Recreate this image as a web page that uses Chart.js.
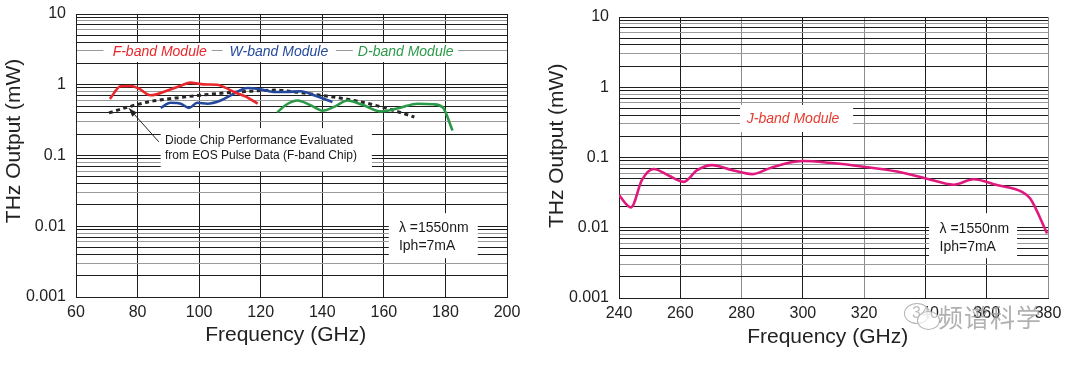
<!DOCTYPE html>
<html>
<head>
<meta charset="utf-8">
<script src="https://cdn.jsdelivr.net/npm/chart.js@4.4.1/dist/chart.umd.min.js"></script>
<style>
  html, body { margin: 0; padding: 0; background: #fff; }
  #wrap { position: relative; width: 1080px; height: 365px; overflow: hidden; }
  canvas { position: absolute; top: 0; }
  #left { left: 0; }
  #right { left: 540px; }
  .bubble { position: absolute; border: 1.5px solid #b4b4b4; border-radius: 50%; background: rgba(255,255,255,0.7); }
  .wm { position: absolute; left: 938px; top: 304px; font: 25px/25px "Noto Sans CJK SC", sans-serif;
        color: rgba(150,150,150,0.75); letter-spacing: 1px; }
</style>
</head>
<body>
<div id="wrap">
  <canvas id="left" width="540" height="365"></canvas>
  <canvas id="right" width="540" height="365"></canvas>
  <div class="bubble" style="left:904px;top:303px;width:24px;height:19px;"></div>
  <div class="bubble" style="left:917px;top:311px;width:21px;height:17px;"></div>
  <div class="wm">频谱科学</div>
</div>
<script>
// ---- data ----
const yDecades = [0.001, 0.01, 0.1, 1, 10];
const yTickLabels = ['0.001', '0.01', '0.1', '1', '10'];
const minorSteps = [1, 2, 3, 4, 5, 6, 7, 8, 9];

const leftXTicks = [60, 80, 100, 120, 140, 160, 180, 200];
const rightXTicks = [240, 260, 280, 300, 320, 340, 360, 380];

const fBandFreq  = [71, 74.5, 77.7, 80.5, 84.2, 89.7, 94, 97.2, 100, 102.7, 105.9, 108.5, 111.3, 115.5, 119];
const fBandPower = [0.63, 0.95, 0.96, 0.88, 0.71, 0.83, 0.97, 1.07, 1.03, 1.01, 1.0, 0.91, 0.79, 0.67, 0.54];

const wBandFreq  = [87.5, 90.7, 94, 96.7, 99.4, 102.7, 107, 111.3, 115.7, 120, 124.2, 128, 133, 137.3, 143.3];
const wBandPower = [0.47, 0.556, 0.54, 0.47, 0.556, 0.54, 0.6, 0.75, 0.9, 0.86, 0.79, 0.79, 0.81, 0.71, 0.57];

const dBandFreq  = [125.4, 128.5, 131.9, 136, 140.1, 144, 148.2, 153, 159, 165, 171, 176, 179.1, 182.3];
const dBandPower = [0.41, 0.53, 0.6, 0.52, 0.43, 0.49, 0.6, 0.52, 0.42, 0.47, 0.54, 0.53, 0.48, 0.226];

const chipFreq  = [70.7, 76.6, 84.2, 95, 105.9, 116.7, 125, 130, 139.5, 150.3, 161.2, 169.9];
const chipPower = [0.40, 0.48, 0.58, 0.67, 0.75, 0.81, 0.84, 0.80, 0.71, 0.60, 0.46, 0.35];

const jBandFreq  = [240, 243.9, 247.5, 251.3, 256, 261.1, 265.5, 270.4, 277, 283.4, 289, 295.4, 300,
                    308.7, 319.8, 330.7, 340.5, 349.2, 355.7, 363.3, 371.5, 374.2, 379.7];
const jBandPower = [0.029, 0.0195, 0.048, 0.0686, 0.056, 0.045, 0.066, 0.078, 0.066, 0.058, 0.07, 0.084, 0.089,
                    0.084, 0.074, 0.063, 0.050, 0.041, 0.049, 0.0405, 0.0325, 0.026, 0.0083];

// ---- helpers ----
const FONT = '"Liberation Sans", Arial, sans-serif';
const NBSP = '\u00a0';
const yGridValues = [];
yDecades.slice(0, -1).forEach(d => minorSteps.forEach(m => yGridValues.push(d * m)));
yGridValues.push(yDecades[yDecades.length - 1]);

const graySteps = [3, 6, 8];
function yGridColor(v) {
  const sig = Math.round(v / Math.pow(10, Math.floor(Math.log10(v) + 1e-9)));
  return graySteps.includes(sig) ? '#9a9a9a' : '#1e1e1e';
}
const pts = (xs, ys) => xs.map((x, i) => ({ x, y: ys[i] }));

function series(label, xs, ys, color, dash) {
  return {
    label, data: pts(xs, ys), borderColor: color, borderWidth: dash ? 3 : 2.6,
    borderDash: dash || [], pointRadius: 0, cubicInterpolationMode: 'monotone', fill: false
  };
}

// white boxes + text drawn over the grid, under the curves
const notesPlugin = {
  id: 'notes',
  beforeDatasetsDraw(chart, args, opts) {
    const { ctx, scales: { x, y } } = chart;
    ctx.save();
    (opts.boxes || []).forEach(b => {
      const x1 = x.getPixelForValue(b.x1), x2 = x.getPixelForValue(b.x2);
      const y1 = y.getPixelForValue(b.y1), y2 = y.getPixelForValue(b.y2);
      ctx.fillStyle = '#fff';
      ctx.fillRect(x1, y1, x2 - x1, y2 - y1);
    });
    (opts.arrows || []).forEach(a => {
      const tx = x.getPixelForValue(a.fromX), ty = y.getPixelForValue(a.fromY);
      const hx = x.getPixelForValue(a.toX), hy = y.getPixelForValue(a.toY);
      const ang = Math.atan2(hy - ty, hx - tx);
      ctx.strokeStyle = '#222'; ctx.fillStyle = '#222'; ctx.lineWidth = 1;
      ctx.beginPath(); ctx.moveTo(tx, ty); ctx.lineTo(hx, hy); ctx.stroke();
      ctx.beginPath();
      ctx.moveTo(hx, hy);
      ctx.lineTo(hx - 9 * Math.cos(ang - 0.35), hy - 9 * Math.sin(ang - 0.35));
      ctx.lineTo(hx - 9 * Math.cos(ang + 0.35), hy - 9 * Math.sin(ang + 0.35));
      ctx.closePath(); ctx.fill();
    });
    (opts.texts || []).forEach(t => {
      ctx.font = t.font;
      ctx.fillStyle = t.color;
      ctx.textAlign = t.align || 'center';
      ctx.textBaseline = 'middle';
      ctx.fillText(t.text, x.getPixelForValue(t.x), y.getPixelForValue(t.y));
    });
    ctx.restore();
  }
};

function makeChart(id, cfg) {
  return new Chart(document.getElementById(id), {
    type: 'line',
    data: { datasets: cfg.datasets },
    plugins: [notesPlugin],
    options: {
      responsive: false,
      animation: false,
      layout: { padding: cfg.padding },
      plugins: { legend: { display: false }, tooltip: { enabled: false }, notes: cfg.notes },
      scales: {
        x: {
          type: 'linear', min: cfg.xTicks[0], max: cfg.xTicks[cfg.xTicks.length - 1],
          afterBuildTicks: s => { s.ticks = cfg.xTicks.map(v => ({ value: v })); },
          afterFit: s => { s.height = cfg.xAxisHeight; },
          ticks: { autoSkip: false, maxRotation: 0, padding: 6, color: '#222', font: { family: FONT, size: 16 } },
          grid: { drawTicks: false, lineWidth: 1,
                  color: c => (cfg.xGray.includes(c.tick.value) ? '#8c8c8c' : '#1e1e1e') },
          border: { color: '#1e1e1e' },
          title: { display: true, text: 'Frequency (GHz)' + NBSP.repeat(2), color: '#222',
                   font: { family: FONT, size: 21 }, padding: { top: 0, bottom: cfg.xTitlePad } }
        },
        y: {
          type: 'logarithmic', min: yDecades[0], max: yDecades[yDecades.length - 1],
          afterBuildTicks: s => { s.ticks = yGridValues.map(v => ({ value: v })); },
          afterFit: s => { s.width = cfg.yAxisWidth; s.paddingTop = 0; s.paddingBottom = 0; },
          ticks: { autoSkip: false, padding: 10, color: '#222', font: { family: FONT, size: 16 },
                   callback: v => { const i = yDecades.indexOf(v); return i < 0 ? '' : yTickLabels[i]; } },
          grid: { drawTicks: false, lineWidth: 1, color: c => yGridColor(c.tick.value) },
          border: { color: '#1e1e1e' },
          title: { display: true, text: NBSP.repeat(cfg.yTitleShift) + 'THz Output (mW)', color: '#222',
                   font: { family: FONT, size: 21 }, padding: { top: cfg.yTitlePad, bottom: 0 } }
        }
      }
    }
  });
}

const italic = 'italic 14px ' + FONT;
const small = '12px ' + FONT;
const note = '14px ' + FONT;

makeChart('left', {
  padding: { top: 14, right: 33, left: 0, bottom: 0 },
  yAxisWidth: 76, xAxisHeight: 68, yTitlePad: 2, yTitleShift: 5, xTitlePad: 17,
  xTicks: leftXTicks, xGray: [],
  datasets: [
    series('F-band Module', fBandFreq, fBandPower, '#e8262b'),
    series('W-band Module', wBandFreq, wBandPower, '#24499c'),
    series('D-band Module', dBandFreq, dBandPower, '#2b9a48'),
    series('Diode Chip', chipFreq, chipPower, '#262626', [4, 3.5])
  ],
  notes: {
    boxes: [
      { x1: 68.9, x2: 104.1, y1: 3.89, y2: 2.095 },
      { x1: 107.6, x2: 144.4, y1: 3.89, y2: 2.095 },
      { x1: 149.9, x2: 184.1, y1: 3.89, y2: 2.095 },
      { x1: 87.5, x2: 156.1, y1: 0.244, y2: 0.0602 },
      { x1: 161.6, x2: 190.5, y1: 0.01532, y2: 0.003538 }
    ],
    arrows: [{ fromX: 86.9, fromY: 0.156, toX: 77.2, toY: 0.464 }],
    texts: [
      { text: 'F-band Module', x: 87.2, y: 2.9, color: '#e8262b', font: italic },
      { text: 'W-band Module', x: 125.9, y: 2.9, color: '#24499c', font: italic },
      { text: 'D-band Module', x: 167.1, y: 2.9, color: '#2b9a48', font: italic },
      { text: 'Diode Chip Performance Evaluated', x: 88.9, y: 0.160, color: '#1a1a1a', font: small, align: 'left' },
      { text: 'from EOS Pulse Data (F-band Chip)', x: 88.9, y: 0.101, color: '#1a1a1a', font: small, align: 'left' },
      { text: 'λ =1550nm', x: 164.9, y: 0.00931, color: '#1a1a1a', font: note, align: 'left' },
      { text: 'Iph=7mA', x: 164.9, y: 0.00523, color: '#1a1a1a', font: note, align: 'left' }
    ]
  }
});

makeChart('right', {
  padding: { top: 17, right: 32, left: 0, bottom: 0 },
  yAxisWidth: 79, xAxisHeight: 67, yTitlePad: 5, yTitleShift: 4, xTitlePad: 15,
  xTicks: rightXTicks, xGray: [280, 320, 380],
  datasets: [
    series('J-band Module', jBandFreq, jBandPower, '#e0197d')
  ],
  notes: {
    boxes: [
      { x1: 279.5, x2: 316.4, y1: 0.561, y2: 0.231 },
      { x1: 341.2, x2: 369.9, y1: 0.01615, y2: 0.003684 }
    ],
    texts: [
      { text: 'J-band Module', x: 296.8, y: 0.354, color: '#e63a2c', font: italic },
      { text: 'λ =1550nm', x: 344.6, y: 0.00946, color: '#1a1a1a', font: note, align: 'left' },
      { text: 'Iph=7mA', x: 344.6, y: 0.00534, color: '#1a1a1a', font: note, align: 'left' }
    ]
  }
});
</script>
</body>
</html>
